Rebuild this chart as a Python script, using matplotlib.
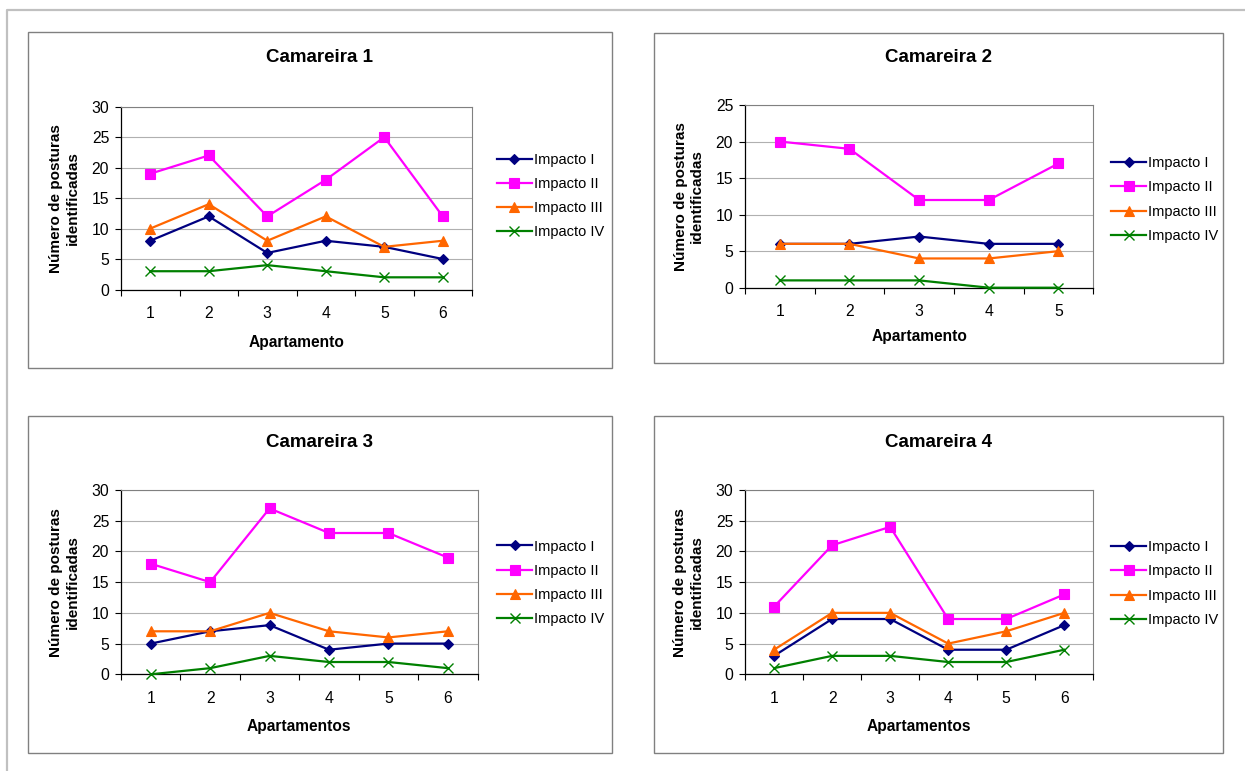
import matplotlib
matplotlib.use("Agg")
import matplotlib.pyplot as plt
from matplotlib.lines import Line2D
from matplotlib.patches import Rectangle
from matplotlib.ticker import FixedLocator, NullFormatter

plt.rcParams['font.family'] = ['Liberation Sans', 'DejaVu Sans']

# ---- data -------------------------------------------------------------
series_names = ["Impacto I", "Impacto II", "Impacto III", "Impacto IV"]

titles = ["Camareira 1", "Camareira 2", "Camareira 3", "Camareira 4"]
xlabels = ["Apartamento", "Apartamento", "Apartamentos", "Apartamentos"]
ylabel = "Número de posturas\nidentificadas"

apart_6 = [1, 2, 3, 4, 5, 6]
apart_5 = [1, 2, 3, 4, 5]

cam1_I = [8, 12, 6, 8, 7, 5]
cam1_II = [19, 22, 12, 18, 25, 12]
cam1_III = [10, 14, 8, 12, 7, 8]
cam1_IV = [3, 3, 4, 3, 2, 2]

cam2_I = [6, 6, 7, 6, 6]
cam2_II = [20, 19, 12, 12, 17]
cam2_III = [6, 6, 4, 4, 5]
cam2_IV = [1, 1, 1, 0, 0]

cam3_I = [5, 7, 8, 4, 5, 5]
cam3_II = [18, 15, 27, 23, 23, 19]
cam3_III = [7, 7, 10, 7, 6, 7]
cam3_IV = [0, 1, 3, 2, 2, 1]

cam4_I = [3, 9, 9, 4, 4, 8]
cam4_II = [11, 21, 24, 9, 9, 13]
cam4_III = [4, 10, 10, 5, 7, 10]
cam4_IV = [1, 3, 3, 2, 2, 4]

y_max = [30, 25, 30, 30]

# ---- styling ----------------------------------------------------------
colors = ["#000080", "#FF00FF", "#FF6600", "#008000"]
markers = ["D", "s", "^", "x"]
msizes = [5.5, 7.2, 7.8, 7.5]

W, H = 1245, 771
fig = plt.figure(figsize=(W / 100, H / 100), dpi=100)
fig.patch.set_facecolor("white")


def fx(x):
    return x / W


def fy(y):
    return 1 - y / H


# outer page frame (top and left edges)
fig.add_artist(Line2D([fx(7), fx(7), fx(W)], [fy(H), fy(10), fy(10)],
                      transform=fig.transFigure, color="#C0C0C0", lw=1.6))

panels = [
    dict(box=(27.7, 32, 611.7, 368), plot=(121, 106.7, 472, 289.5),
         title_y=58, xlab_y=342, ylab_x=64, leg=(496.7, 152.8),
         x=apart_6, data=[cam1_I, cam1_II, cam1_III, cam1_IV]),
    dict(box=(654, 32.7, 1223.3, 363.3), plot=(745, 105, 1093.3, 287.7),
         title_y=58, xlab_y=336.7, ylab_x=689, leg=(1111, 156.2),
         x=apart_5, data=[cam2_I, cam2_II, cam2_III, cam2_IV]),
    dict(box=(27.7, 415.7, 612, 753.3), plot=(121, 490, 477.6, 674.3),
         title_y=442.7, xlab_y=726.7, ylab_x=64, leg=(497, 539.5),
         x=apart_6, data=[cam3_I, cam3_II, cam3_III, cam3_IV]),
    dict(box=(654.3, 416, 1223.3, 753.3), plot=(745, 490, 1093.3, 674.3),
         title_y=442.7, xlab_y=726.7, ylab_x=688, leg=(1111, 540.2),
         x=apart_6, data=[cam4_I, cam4_II, cam4_III, cam4_IV]),
]

for i, p in enumerate(panels):
    bx0, by0, bx1, by1 = p["box"]
    fig.add_artist(Rectangle((fx(bx0), fy(by1)), (bx1 - bx0) / W, (by1 - by0) / H,
                             transform=fig.transFigure, facecolor="white",
                             edgecolor="#808080", lw=1.0, zorder=0))

    x0, y0, x1, y1 = p["plot"]
    ax = fig.add_axes([fx(x0), fy(y1), (x1 - x0) / W, (y1 - y0) / H])
    ax.set_facecolor("white")

    xs = p["x"]
    n = len(xs)
    for name, vals, c, m, ms in zip(series_names, p["data"], colors, markers, msizes):
        ax.plot(xs, vals, color=c, lw=1.6, marker=m, markersize=ms,
                markerfacecolor=c, markeredgecolor=c,
                markeredgewidth=1.0 if m == "x" else 0.8,
                label=name, clip_on=False, zorder=3)

    ax.set_xlim(0.5, n + 0.5)
    ax.set_ylim(0, y_max[i])
    ax.set_yticks(range(0, y_max[i] + 1, 5))
    ax.yaxis.grid(True, color="#B0B0B0", lw=0.8)
    ax.set_axisbelow(True)

    # category axis: tick marks between categories, labels at centres
    ax.xaxis.set_major_locator(FixedLocator([k + 0.5 for k in range(0, n + 1)]))
    ax.xaxis.set_major_formatter(NullFormatter())
    ax.xaxis.set_minor_locator(FixedLocator(xs))
    ax.set_xticks(xs, [str(v) for v in xs], minor=True)
    ax.tick_params(axis="x", which="major", length=4, width=0.8, direction="out")
    ax.tick_params(axis="x", which="minor", length=0, pad=12, labelsize=11.3)
    ax.tick_params(axis="y", length=4, width=0.8, direction="out", pad=4.5, labelsize=11.3)

    for side in ("top", "right"):
        ax.spines[side].set_color("#808080")
        ax.spines[side].set_linewidth(0.8)
    for side in ("left", "bottom"):
        ax.spines[side].set_color("black")
        ax.spines[side].set_linewidth(0.9)

    fig.text(fx((bx0 + bx1) / 2), fy(p["title_y"]), titles[i],
             ha="center", va="center", fontsize=13.5, fontweight="bold")
    fig.text(fx((x0 + x1) / 2), fy(p["xlab_y"]), xlabels[i],
             ha="center", va="center", fontsize=11.2, fontweight="bold")
    fig.text(fx(p["ylab_x"]), fy((y0 + y1) / 2), ylabel, rotation=90,
             ha="center", va="center", multialignment="center",
             fontsize=11, fontweight="bold", linespacing=1.25)

    lx, ly = p["leg"]
    ax.legend(loc="upper left", bbox_to_anchor=(fx(lx), fy(ly)),
              bbox_transform=fig.transFigure, frameon=False,
              fontsize=10.5, handlelength=2.4, handletextpad=0.15,
              labelspacing=0.7, borderpad=0, borderaxespad=0)

fig.savefig("out.png", dpi=100)
